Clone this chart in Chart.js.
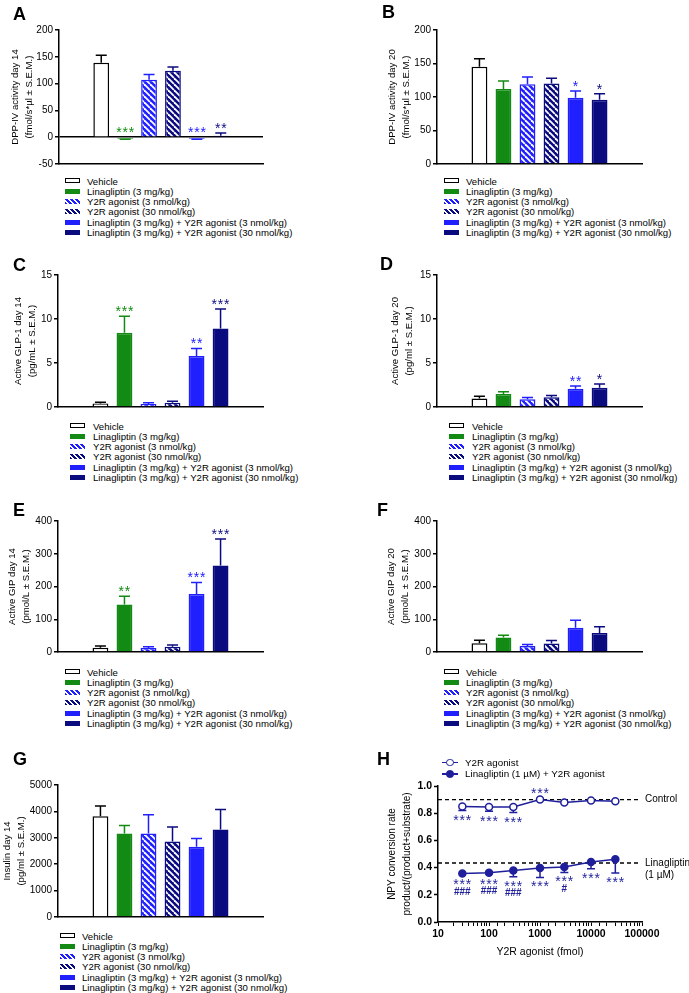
<!DOCTYPE html>
<html>
<head>
<meta charset="utf-8">
<script src="https://cdn.jsdelivr.net/npm/chart.js@4.4.1/dist/chart.umd.min.js"></script>
<style>
  body { margin: 0; background: #fff; width: 689px; height: 993px; position: relative; overflow: hidden;
         font-family: Arial, "Liberation Sans", sans-serif; color: #000; }
  canvas { position: absolute; }
  .letter { position: absolute; font-weight: bold; font-size: 18px; line-height: 18px; }
  .legend { position: absolute; font-size: 9.6px; white-space: nowrap; }
  .legend .row { height: 10.3px; display: flex; align-items: center; }
  .sw { display: inline-block; width: 15px; height: 5px; box-sizing: border-box; flex: none; }
  .mk { display: inline-block; width: 16px; height: 1.5px; position: relative; margin-right: 7px; flex: none; }
  .mk i { position: absolute; left: 4px; top: -3px; width: 7.5px; height: 7.5px; box-sizing: border-box;
          border: 1.5px solid; border-radius: 50%; }
</style>
</head>
<body>
<script>
// group names (shared by panels A-G)
const groups = [
    'Vehicle',
    'Linagliptin (3 mg/kg)',
    'Y2R agonist (3 nmol/kg)',
    'Y2R agonist (30 nmol/kg)',
    'Linagliptin (3 mg/kg) + Y2R agonist (3 nmol/kg)',
    'Linagliptin (3 mg/kg) + Y2R agonist (30 nmol/kg)'
];

// A - DPP-IV day 14
const dppDay14 = [139, -3, 107, 124, -3, 2.5];
const dppDay14Sem = [14, 1, 10, 7, 1, 5.5];
const dppDay14Sig = ['', '***', '', '', '***', '**'];

// B - DPP-IV day 20
const dppDay20 = [145, 112, 119, 120, 99, 96];
const dppDay20Sem = [12, 12, 11, 8, 10, 9];
const dppDay20Sig = ['', '', '', '', '*', '*'];

// C - GLP-1 day 14
const glpDay14 = [0.4, 8.45, 0.33, 0.48, 5.8, 8.93];
const glpDay14Sem = [0.15, 1.85, 0.15, 0.18, 0.85, 2.2];
const glpDay14Sig = ['', '***', '', '', '**', '***'];

// D - GLP-1 day 20
const glpDay20 = [0.96, 1.47, 0.88, 1.1, 2.06, 2.2];
const glpDay20Sem = [0.25, 0.26, 0.19, 0.22, 0.33, 0.41];
const glpDay20Sig = ['', '', '', '', '**', '*'];

// E - GIP day 14
const gipDay14 = [13, 145, 12, 16, 177, 264];
const gipDay14Sem = [5, 25, 4, 5, 35, 81];
const gipDay14Sig = ['', '**', '', '', '***', '***'];

// F - GIP day 20
const gipDay20 = [27, 44, 18, 26, 74, 58];
const gipDay20Sem = [9, 7, 5, 9, 23, 19];
const gipDay20Sig = ['', '', '', '', '', ''];

// G - insulin day 14
const insulinDay14 = [3820, 3160, 3160, 2860, 2660, 3310];
const insulinDay14Sem = [380, 310, 710, 550, 310, 760];
const insulinDay14Sig = ['', '', '', '', '', ''];

// H - NPY conversion
const npyDoses = [30, 100, 300, 1000, 3000, 10000, 30000];
const npyY2r = [0.85, 0.845, 0.845, 0.90, 0.878, 0.893, 0.888];
const npyY2rSem = [0.03, 0.03, 0.04, 0.005, 0.006, 0.005, 0.006];
const npyY2rSig = ['***', '***', '***', '***', '', '', ''];
const npyY2rSigSide = ['below', 'below', 'below', 'above', '', '', ''];
const npyLina = [0.356, 0.363, 0.378, 0.397, 0.404, 0.441, 0.461];
const npyLinaSem = [0.012, 0.015, 0.045, 0.07, 0.04, 0.05, 0.1];
const npyLinaSig = ['***', '***', '***', '***', '***', '***', '***'];
const npyLinaHash = ['###', '###', '###', '', '#', '', ''];
const controlLevel = 0.9;
const linaLevel = 0.434;

const GREEN = '#138a13', BLUE = '#2020ff', NAVY = '#0b0b80', HNAVY = '#1f1f9c';
const FONT = 'Arial, "Liberation Sans", sans-serif';

Chart.defaults.font.family = FONT;
Chart.defaults.font.size = 10;
Chart.defaults.color = '#000';

function hatch(ctx, color) {
    const tile = document.createElement('canvas');
    tile.width = 6; tile.height = 6;
    const g = tile.getContext('2d');
    g.fillStyle = color;
    g.fillRect(0, 0, 6, 6);
    g.strokeStyle = '#fff';
    g.lineWidth = 1.8;
    [-6, 0, 6].forEach(k => {
        g.beginPath(); g.moveTo(k, 0); g.lineTo(k + 6, 6); g.stroke();
    });
    return ctx.createPattern(tile, 'repeat');
}

function makeCanvas(left, top, w, h) {
    const cv = document.createElement('canvas');
    cv.width = w; cv.height = h;
    cv.style.left = left + 'px'; cv.style.top = top + 'px';
    cv.style.width = w + 'px'; cv.style.height = h + 'px';
    document.body.appendChild(cv);
    return cv;
}

function addLetter(txt, left, top) {
    const d = document.createElement('div');
    d.className = 'letter';
    d.textContent = txt;
    d.style.left = left + 'px'; d.style.top = top + 'px';
    document.body.appendChild(d);
}

const swatches = [
    'background:#fff;border:1.5px solid #000',
    'background:' + GREEN,
    'background:repeating-linear-gradient(45deg,' + BLUE + ' 0 2px,#fff 2px 3.5px)',
    'background:repeating-linear-gradient(45deg,' + NAVY + ' 0 2px,#fff 2px 3.5px)',
    'background:' + BLUE,
    'background:' + NAVY
];

function addLegend(boxLeft, textLeft, firstRow) {
    const wrap = document.createElement('div');
    wrap.className = 'legend';
    wrap.style.left = boxLeft + 'px';
    wrap.style.top = (firstRow - 5.15) + 'px';
    groups.forEach((name, i) => {
        const row = document.createElement('div');
        row.className = 'row';
        const sw = document.createElement('span');
        sw.className = 'sw';
        sw.style.cssText = swatches[i] + ';margin-right:' + (textLeft - boxLeft - 15) + 'px';
        const label = document.createElement('span');
        label.textContent = name;
        row.append(sw);
        row.append(label);
        wrap.appendChild(row);
    });
    document.body.appendChild(wrap);
}

function drawStars(ctx, txt, x, y) {
    ctx.font = '14px ' + FONT;
    ctx.letterSpacing = '0.8px';
    ctx.textAlign = 'center';
    ctx.textBaseline = 'middle';
    ctx.fillText(txt, x + 0.4, y + 3);
}

const errorBars = {
    id: 'errorBars',
    afterDatasetsDraw(chart) {
        const ctx = chart.ctx;
        const y = chart.scales.y;
        const ds = chart.data.datasets[0];
        chart.getDatasetMeta(0).data.forEach((bar, i) => {
            const v = ds.data[i].y;
            const dir = v < 0 ? -1 : 1;
            const yEnd = y.getPixelForValue(v + dir * ds.sem[i]);
            ctx.save();
            ctx.strokeStyle = ds.borderColor[i];
            ctx.lineWidth = 1.5;
            ctx.beginPath();
            ctx.moveTo(bar.x, bar.y); ctx.lineTo(bar.x, yEnd);
            ctx.moveTo(bar.x - 5.5, yEnd); ctx.lineTo(bar.x + 5.5, yEnd);
            ctx.stroke();
            if (ds.sig[i]) {
                const top = Math.min(yEnd, y.getPixelForValue(0), bar.y);
                ctx.fillStyle = ds.borderColor[i];
                drawStars(ctx, ds.sig[i], bar.x, top - 7);
            }
            ctx.restore();
        });
    }
};

function barPanel(p) {
    const [cl, ct, cw, ch] = p.canvas;
    const [aL, aR, aT, aB] = p.area;
    const cv = makeCanvas(cl, ct, cw, ch);
    const ctx = cv.getContext('2d');
    const fills = ['#ffffff', GREEN, hatch(ctx, BLUE), hatch(ctx, NAVY), BLUE, NAVY];
    const edges = ['#000000', GREEN, BLUE, NAVY, BLUE, NAVY];

    new Chart(ctx, {
        type: 'bar',
        data: {
            datasets: [{
                data: p.values.map((v, i) => ({ x: i + 1, y: v })),
                backgroundColor: fills,
                borderColor: edges,
                borderWidth: 1.5,
                borderSkipped: 'start',
                categoryPercentage: 1,
                barPercentage: 0.66,
                sem: p.sem,
                sig: p.sig
            }]
        },
        options: {
            responsive: false,
            animation: false,
            devicePixelRatio: 1,
            layout: { padding: { left: 0, top: aT - ct, right: cl + cw - aR, bottom: ct + ch - aB } },
            plugins: { legend: { display: false }, tooltip: { enabled: false } },
            scales: {
                x: {
                    type: 'linear', min: 0.3, max: 6.7,
                    ticks: { display: false },
                    grid: { display: false },
                    border: { color: '#000', width: 1.5 },
                    afterFit: s => { s.height = 0; }
                },
                y: {
                    min: p.min, max: p.max,
                    ticks: { stepSize: p.step, padding: 2, color: '#000', callback: v => String(v) },
                    grid: {
                        drawOnChartArea: p.zeroLine === true,
                        color: c => (c.tick && c.tick.value === 0 && p.zeroLine) ? '#000' : 'rgba(0,0,0,0)',
                        lineWidth: 1.5,
                        tickColor: '#000', tickWidth: 1.5, tickLength: 4
                    },
                    border: { color: '#000', width: 1.5 },
                    title: {
                        display: true, text: p.title, color: '#000',
                        font: { size: 9.6, lineHeight: 1.45 },
                        padding: { top: p.titlePad, bottom: 0 }
                    },
                    afterFit: s => { s.width = aL - cl; }
                }
            }
        },
        plugins: [errorBars]
    });
}

// panels A-G
barPanel({ canvas: [0, 0, 345, 172], area: [59, 263, 30, 166], values: dppDay14, sem: dppDay14Sem, sig: dppDay14Sig,
    min: -50, max: 200, step: 50, zeroLine: true, titlePad: 8.7,
    title: ['DPP-IV activity day 14', '(fmol/s*µl ± S.E.M.)'] });
barPanel({ canvas: [345, 0, 344, 172], area: [437, 642, 30, 166], values: dppDay20, sem: dppDay20Sem, sig: dppDay20Sig,
    min: 0, max: 200, step: 50, titlePad: 40,
    title: ['DPP-IV activity day 20', '(fmol/s*µl ± S.E.M.)'] });
barPanel({ canvas: [0, 250, 345, 165], area: [58, 263, 275, 411], values: glpDay14, sem: glpDay14Sem, sig: glpDay14Sig,
    min: 0, max: 15, step: 5, titlePad: 11.3,
    title: ['Active GLP-1 day 14', '(pg/mL ± S.E.M.)'] });
barPanel({ canvas: [345, 250, 344, 165], area: [437, 642, 275, 411], values: glpDay20, sem: glpDay20Sem, sig: glpDay20Sig,
    min: 0, max: 15, step: 5, titlePad: 43.7,
    title: ['Active GLP-1 day 20', '(pg/ml ± S.E.M.)'] });
barPanel({ canvas: [0, 500, 345, 160], area: [58, 263, 521, 656], values: gipDay14, sem: gipDay14Sem, sig: gipDay14Sig,
    min: 0, max: 400, step: 100, titlePad: 5.7,
    title: ['Active GIP day 14', '(pmol/L ± S.E.M.)'] });
barPanel({ canvas: [345, 500, 344, 160], area: [437, 642, 521, 656], values: gipDay20, sem: gipDay20Sem, sig: gipDay20Sig,
    min: 0, max: 400, step: 100, titlePad: 39.7,
    title: ['Active GIP day 20', '(pmol/L ± S.E.M.)'] });
barPanel({ canvas: [0, 750, 345, 175], area: [58, 263, 785, 921], values: insulinDay14, sem: insulinDay14Sem, sig: insulinDay14Sig,
    min: 0, max: 5000, step: 1000, titlePad: 0.5,
    title: ['Insulin day 14', '(pg/ml ± S.E.M.)'] });

addLegend(65, 87, 181);
addLegend(444, 466, 181);
addLegend(70, 93, 426);
addLegend(449, 472, 426);
addLegend(65, 87, 672);
addLegend(444, 466, 672);
addLegend(60, 82, 936);

// panel H
const npyPlugin = {
    id: 'npyExtras',
    beforeDatasetsDraw(chart) {
        const { ctx, chartArea: a, scales: { x, y } } = chart;
        ctx.save();
        ctx.strokeStyle = '#000';
        ctx.lineWidth = 1.3;
        ctx.setLineDash([4, 3]);
        [controlLevel, linaLevel].forEach(level => {
            const py = y.getPixelForValue(level);
            ctx.beginPath(); ctx.moveTo(a.left, py); ctx.lineTo(a.right - 4, py); ctx.stroke();
        });
        ctx.setLineDash([]);
        ctx.lineWidth = 1.5;
        chart.data.datasets.forEach(ds => {
            ctx.strokeStyle = ds.borderColor;
            ds.data.forEach((pt, i) => {
                const px = x.getPixelForValue(pt.x);
                const p0 = y.getPixelForValue(pt.y);
                const p1 = y.getPixelForValue(pt.y - ds.sem[i]);
                if (p1 - p0 < 4) return;
                ctx.beginPath();
                ctx.moveTo(px, p0); ctx.lineTo(px, p1);
                ctx.moveTo(px - 4, p1); ctx.lineTo(px + 4, p1);
                ctx.stroke();
            });
        });
        ctx.restore();
    },
    afterDatasetsDraw(chart) {
        const { ctx, chartArea: a, scales: { x, y } } = chart;
        ctx.save();
        ctx.fillStyle = '#000';
        ctx.font = '10px ' + FONT;
        ctx.textAlign = 'left';
        ctx.textBaseline = 'middle';
        ctx.fillText('Control', a.right + 3, y.getPixelForValue(controlLevel));
        ctx.fillText('Linagliptin', a.right + 3, y.getPixelForValue(linaLevel));
        ctx.fillText('(1 µM)', a.right + 3, y.getPixelForValue(linaLevel) + 12);

        ctx.fillStyle = HNAVY;
        const open = chart.data.datasets[0], closed = chart.data.datasets[1];
        open.data.forEach((pt, i) => {
            if (!npyY2rSig[i]) return;
            const px = x.getPixelForValue(pt.x);
            if (npyY2rSigSide[i] === 'above') {
                drawStars(ctx, npyY2rSig[i], px, y.getPixelForValue(pt.y) - 8);
            } else {
                drawStars(ctx, npyY2rSig[i], px, y.getPixelForValue(pt.y - open.sem[i]) + 8);
            }
        });
        closed.data.forEach((pt, i) => {
            const px = x.getPixelForValue(pt.x);
            const base = y.getPixelForValue(pt.y - closed.sem[i]);
            drawStars(ctx, npyLinaSig[i], px, base + 7);
            if (npyLinaHash[i]) {
                ctx.font = 'bold 10px ' + FONT;
                ctx.letterSpacing = '0px';
                ctx.textAlign = 'center';
                ctx.textBaseline = 'middle';
                ctx.fillText(npyLinaHash[i], px, base + 17);
            }
        });
        ctx.restore();
    }
};

const cvH = makeCanvas(345, 750, 344, 215);
new Chart(cvH.getContext('2d'), {
    type: 'line',
    data: {
        datasets: [{
            data: npyDoses.map((d, i) => ({ x: d, y: npyY2r[i] })),
            sem: npyY2rSem,
            borderColor: HNAVY, borderWidth: 1.5,
            pointRadius: 3.5, pointBorderWidth: 1.5,
            pointBackgroundColor: '#fff', pointBorderColor: HNAVY
        }, {
            data: npyDoses.map((d, i) => ({ x: d, y: npyLina[i] })),
            sem: npyLinaSem,
            borderColor: HNAVY, borderWidth: 1.5,
            pointRadius: 3.5, pointBorderWidth: 1.5,
            pointBackgroundColor: HNAVY, pointBorderColor: HNAVY
        }]
    },
    options: {
        responsive: false,
        animation: false,
        devicePixelRatio: 1,
        layout: { padding: { left: 0, top: 36, right: 47, bottom: 5 } },
        plugins: { legend: { display: false }, tooltip: { enabled: false } },
        scales: {
            x: {
                type: 'logarithmic', min: 10, max: 100000,
                ticks: {
                    autoSkip: false, maxRotation: 0, padding: 2,
                    font: { weight: 'bold', size: 10.5 },
                    callback: v => {
                        const lg = Math.log10(v);
                        return Math.abs(lg - Math.round(lg)) < 1e-9 ? String(v) : '';
                    }
                },
                grid: { drawOnChartArea: false, tickColor: '#000', tickWidth: 1, tickLength: 4 },
                border: { color: '#000', width: 1.5 },
                title: { display: true, text: 'Y2R agonist (fmol)', font: { size: 10.5 }, padding: { top: 0, bottom: 2 } },
                afterFit: s => { s.height = 38; }
            },
            y: {
                min: 0, max: 1,
                ticks: { stepSize: 0.2, padding: 2, font: { weight: 'bold', size: 10.5 }, callback: v => v.toFixed(1) },
                grid: { drawOnChartArea: false, tickColor: '#000', tickWidth: 1.5, tickLength: 4 },
                border: { color: '#000', width: 1.5 },
                title: {
                    display: true, text: ['NPY conversion rate', 'product/(product+substrate)'],
                    font: { size: 10, lineHeight: 1.5 }, padding: { top: 40, bottom: 0 }
                },
                afterFit: s => { s.width = 93; }
            }
        }
    },
    plugins: [npyPlugin]
});

// H legend
const hLegend = document.createElement('div');
hLegend.className = 'legend';
hLegend.style.left = '442px';
hLegend.style.top = '757px';
hLegend.style.fontSize = '9.8px';
[['Y2R agonist', '#fff'], ['Linagliptin (1 µM) + Y2R agonist', HNAVY]].forEach(([name, fill]) => {
    const row = document.createElement('div');
    row.className = 'row';
    row.style.height = '11.3px';
    const mk = document.createElement('span');
    mk.className = 'mk';
    mk.style.background = HNAVY;
    const dot = document.createElement('i');
    dot.style.borderColor = HNAVY;
    dot.style.background = fill;
    mk.append(dot);
    const label = document.createElement('span');
    label.textContent = name;
    row.append(mk);
    row.append(label);
    hLegend.appendChild(row);
});
document.body.appendChild(hLegend);

addLetter('A', 13, 4.6);
addLetter('B', 382, 2.6);
addLetter('C', 13, 255.6);
addLetter('D', 380, 254.6);
addLetter('E', 13, 500.6);
addLetter('F', 377, 500.6);
addLetter('G', 13, 749.6);
addLetter('H', 377, 749.6);
</script>
</body>
</html>
